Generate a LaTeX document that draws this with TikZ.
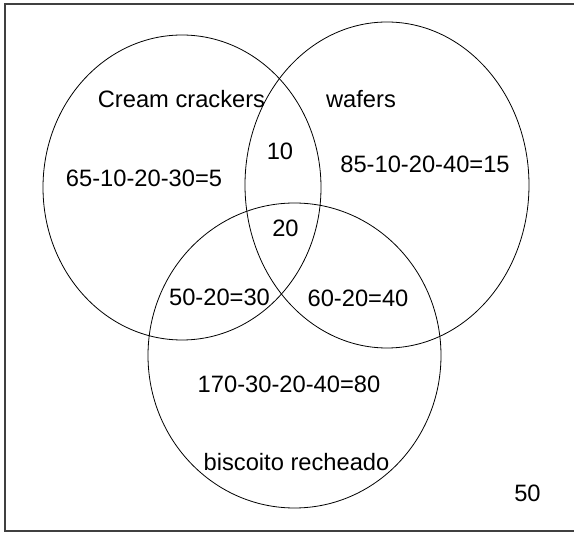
\documentclass[tikz,border=0pt]{standalone}
\usepackage{fontspec}
\setmainfont{Liberation Sans}
\usepackage{tikz}
\newcommand{\vscale}{1pt}
\newcommand{\lw}{0.8pt}
\newcommand{\tsize}{23.7}

\begin{document}
\begin{tikzpicture}[x=\vscale, y=-\vscale]
        %\draw[help lines] (0,0) grid (574,534);
        \useasboundingbox (0,0) rectangle (574,534);
        \tikzset{areatext/.style = {font=\fontsize{\tsize}{28}\selectfont, inner sep=0pt, anchor=base}}
        \tikzset{setline/.style = {line width=\lw, black}}
        \draw[line width=1.4pt, black!75] (5,4) rectangle (577,531);

        \draw[setline] (182,187.5) ellipse [x radius=139pt, y radius=152.5pt];
        \draw[setline] (387,185) ellipse [x radius=142pt, y radius=163pt];
        \draw[setline] (294.5,355.5) ellipse [x radius=146.5pt, y radius=152.5pt];

        \node[areatext] (cream) at (181.5,108) {Cream crackers};
        \node[areatext] (wafers) at (361,108) {wafers};
        \node[areatext] (recheado) at (296.5,471) {biscoito recheado};

        \node[areatext] (onlycream) at (144,187) {65-10-20-30=5};
        \node[areatext] (onlywafers) at (425,173) {85-10-20-40=15};
        \node[areatext] (onlyrecheado) at (289,393) {170-30-20-40=80};

        \node[areatext] (creamwafers) at (280,159.5) {10};
        \node[areatext] (all) at (285.5,237) {20};
        \node[areatext] (creamrecheado) at (219.5,306) {50-20=30};
        \node[areatext] (wafersrecheado) at (358,306.5) {60-20=40};

        \node[areatext] (none) at (527.5,501.5) {50};
    \end{tikzpicture}
\end{document}
